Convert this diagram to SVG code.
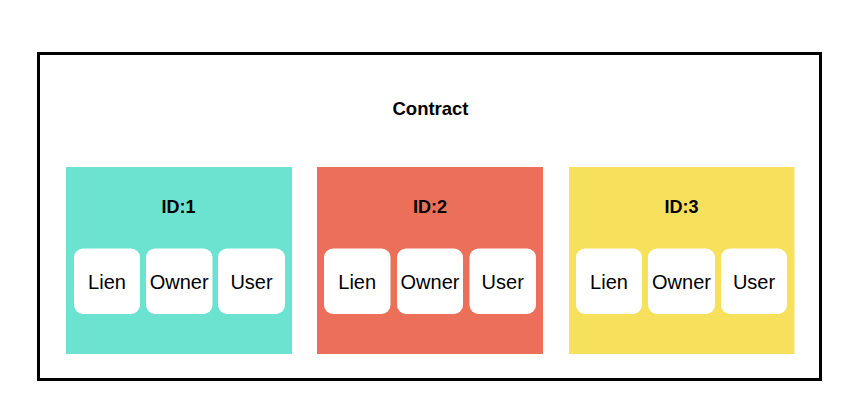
<svg xmlns="http://www.w3.org/2000/svg" width="868" height="416" viewBox="0 0 868 416">
<style>
.t{font-family:"Liberation Sans",Arial,sans-serif;fill:#000;text-anchor:middle}
.b{font-weight:bold}
.card{fill:#fff}
.lbl{font-size:20px}
.id{font-size:18px;font-weight:bold}
</style>
<rect width="868" height="416" fill="#fff"/>
<g id="contract">
<rect x="38.5" y="53.5" width="782" height="326" fill="none" stroke="#000" stroke-width="3"/>
<text class="t b" x="430.5" y="115" font-size="18.5">Contract</text>
</g>
<g id="id1">
<rect x="66" y="167" width="226" height="187" fill="#6CE3D0"/>
<text class="t id" x="178.5" y="212.5">ID:1</text>
<g id="id1-lien"><rect class="card" x="74" y="248.5" width="66" height="65.5" rx="9"/><text class="t lbl" x="107" y="288.5">Lien</text></g>
<g id="id1-owner"><rect class="card" x="146" y="248.5" width="66.5" height="65.5" rx="9"/><text class="t lbl" x="179.2" y="288.5">Owner</text></g>
<g id="id1-user"><rect class="card" x="218" y="248.5" width="67" height="65.5" rx="9"/><text class="t lbl" x="251.5" y="288.5">User</text></g>
</g>
<g id="id2">
<rect x="317" y="167" width="226" height="187" fill="#EC6F5A"/>
<text class="t id" x="430" y="212.5">ID:2</text>
<g id="id2-lien"><rect class="card" x="324" y="248.5" width="66.5" height="65.5" rx="9"/><text class="t lbl" x="357.2" y="288.5">Lien</text></g>
<g id="id2-owner"><rect class="card" x="397" y="248.5" width="66" height="65.5" rx="9"/><text class="t lbl" x="430" y="288.5">Owner</text></g>
<g id="id2-user"><rect class="card" x="469.5" y="248.5" width="66.5" height="65.5" rx="9"/><text class="t lbl" x="502.7" y="288.5">User</text></g>
</g>
<g id="id3">
<rect x="569" y="167" width="225.5" height="187" fill="#F7E05B"/>
<text class="t id" x="681.5" y="212.5">ID:3</text>
<g id="id3-lien"><rect class="card" x="576" y="248.5" width="66" height="65.5" rx="9"/><text class="t lbl" x="609" y="288.5">Lien</text></g>
<g id="id3-owner"><rect class="card" x="648" y="248.5" width="67" height="65.5" rx="9"/><text class="t lbl" x="681.5" y="288.5">Owner</text></g>
<g id="id3-user"><rect class="card" x="721" y="248.5" width="66" height="65.5" rx="9"/><text class="t lbl" x="754" y="288.5">User</text></g>
</g>
</svg>
